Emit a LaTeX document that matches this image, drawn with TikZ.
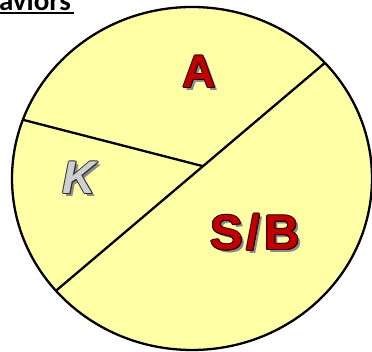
\documentclass[tikz,border=0pt]{standalone}
\usepackage{fontspec}
\setmainfont{Liberation Sans}
\newfontfamily\titlefont{Carlito}
\definecolor{pieyellow}{HTML}{FFFFA6}
\definecolor{letred}{HTML}{C00000}
\definecolor{letedge}{HTML}{300000}
\definecolor{kgray}{HTML}{CFCFCF}
\definecolor{kedge}{HTML}{303030}
\definecolor{shade}{HTML}{8A8A8A}
% big letter: shadow, dark edge, filled face
\newcommand{\bigletter}[3]{%
  \rlap{\hspace{3pt}\raisebox{-3pt}{\textcolor{shade}{#3}}}%
  \foreach \dx/\dy in {-1.1/0,1.1/0,0/-1.1,0/1.1,-0.8/-0.8,0.8/0.8,-0.8/0.8,0.8/-0.8}{%
    \rlap{\hspace{\dx pt}\raisebox{\dy pt}{\textcolor{#2}{#3}}}}%
  \textcolor{#1}{#3}}
\begin{document}
\begin{tikzpicture}[x=1pt, y=1pt]
    \useasboundingbox (0,0) rectangle (372,352);
    \clip (0,0) rectangle (372,352);

    % title, cut at the top
    \node[anchor=base west, inner sep=0] (title) at (-1.2,341.2)
        {\titlefont\bfseries\fontsize{29}{31}\selectfont\rlap{\rule[-3.4pt]{75pt}{1.8pt}}aviors};

    % the pie
    \filldraw[fill=pieyellow, line width=2.3pt] (192,173.5) ellipse [x radius=180, y radius=171.5];

    % dividing lines
    \coordinate (ne) at (324.9,289.1);
    \coordinate (sw) at (55.9,61.2);
    \coordinate (wn) at (22.9,232.2);
    \coordinate (hub) at (203,185.8);
    \draw[line width=2.3pt] (ne) -- (sw);
    \draw[line width=2.3pt] (wn) -- (hub);

    % part labels
    \node (A) at (199.5,279) {\fontsize{46}{48}\selectfont\bfseries\bigletter{letred}{letedge}{A}};
    \node (K) at (79.5,173) {\fontsize{46}{48}\selectfont\bfseries\itshape\bigletter{kgray}{kedge}{K}};
    \node (SB) at (255,118.5) {\fontsize{49}{51}\selectfont\bfseries
        \bigletter{letred}{letedge}{S}\hspace{0.08em}\bigletter{letred}{letedge}{/}\hspace{0.08em}\bigletter{letred}{letedge}{B}};
\end{tikzpicture}
\end{document}
